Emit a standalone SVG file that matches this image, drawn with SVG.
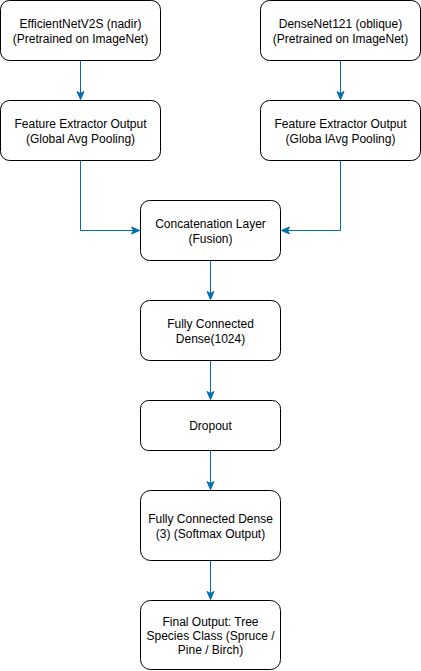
<svg xmlns="http://www.w3.org/2000/svg" width="421" height="671" viewBox="0 0 421 671">
<style>
.box{fill:#fff;stroke:#000;stroke-width:1}
.t{font-family:"Liberation Sans",Arial,sans-serif;font-size:12px;fill:#000;text-anchor:middle}
.c{fill:none;stroke:#006EAF;stroke-width:1}
</style>
<defs>
<marker id="ah" markerUnits="userSpaceOnUse" markerWidth="10" markerHeight="10" viewBox="0 0 10 10" refX="9" refY="5" orient="auto">
<path d="M1,1.5 L9,5 L1,8.5 L3,5 z" fill="#006EAF" stroke="#006EAF" stroke-width="1"/>
</marker>
</defs>
<rect width="421" height="671" fill="#fff"/>
<g id="connectors">
<path class="c" d="M80.5,60.5 V99.5" marker-end="url(#ah)"/>
<path class="c" d="M340.5,60.5 V99.5" marker-end="url(#ah)"/>
<path class="c" d="M80.5,160.5 V230.5 H139.5" marker-end="url(#ah)"/>
<path class="c" d="M340.5,160.5 V230.5 H281.5" marker-end="url(#ah)"/>
<path class="c" d="M210.5,260.5 V299.5" marker-end="url(#ah)"/>
<path class="c" d="M210.5,360.5 V399.5" marker-end="url(#ah)"/>
<path class="c" d="M210.5,450.5 V489.5" marker-end="url(#ah)"/>
<path class="c" d="M210.5,560.5 V599.5" marker-end="url(#ah)"/>
</g>
<g id="n1">
<rect class="box" x="0.5" y="0.5" width="160" height="60" rx="9"/>
<text class="t" x="80.5" y="28">EfficientNetV2S (nadir)</text>
<text class="t" x="80.5" y="43">(Pretrained on ImageNet)</text>
</g>
<g id="n2">
<rect class="box" x="260.5" y="0.5" width="160" height="60" rx="9"/>
<text class="t" x="340.5" y="28">DenseNet121 (oblique)</text>
<text class="t" x="340.5" y="43">(Pretrained on ImageNet)</text>
</g>
<g id="n3">
<rect class="box" x="0.5" y="100.5" width="160" height="60" rx="9"/>
<text class="t" x="80.5" y="128">Feature Extractor Output</text>
<text class="t" x="80.5" y="143">(Global Avg Pooling)</text>
</g>
<g id="n4">
<rect class="box" x="260.5" y="100.5" width="160" height="60" rx="9"/>
<text class="t" x="340.5" y="128">Feature Extractor Output</text>
<text class="t" x="340.5" y="143">(Globa lAvg Pooling)</text>
</g>
<g id="n5">
<rect class="box" x="140.5" y="200.5" width="140" height="60" rx="9"/>
<text class="t" x="210.5" y="228">Concatenation Layer</text>
<text class="t" x="210.5" y="243">(Fusion)</text>
</g>
<g id="n6">
<rect class="box" x="140.5" y="300.5" width="140" height="60" rx="9"/>
<text class="t" x="210.5" y="328">Fully Connected</text>
<text class="t" x="210.5" y="343">Dense(1024)</text>
</g>
<g id="n7">
<rect class="box" x="140.5" y="400.5" width="140" height="50" rx="8"/>
<text class="t" x="210.5" y="430">Dropout</text>
</g>
<g id="n8">
<rect class="box" x="140.5" y="490.5" width="140" height="70" rx="10"/>
<text class="t" x="210.5" y="523">Fully Connected Dense</text>
<text class="t" x="210.5" y="538">(3) (Softmax Output)</text>
</g>
<g id="n9">
<rect class="box" x="140.5" y="600.5" width="140" height="69" rx="10"/>
<text class="t" x="210.5" y="626">Final Output: Tree</text>
<text class="t" x="210.5" y="640">Species Class (Spruce /</text>
<text class="t" x="210.5" y="654">Pine / Birch)</text>
</g>
</svg>
